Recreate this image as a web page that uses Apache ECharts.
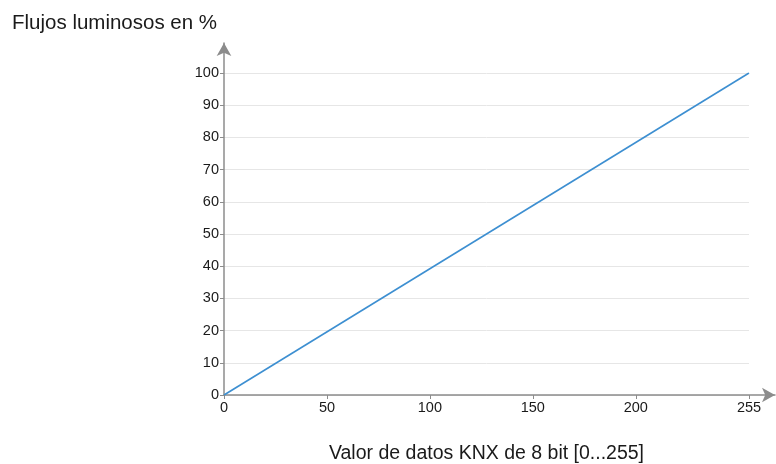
<!DOCTYPE html>
<html>
<head>
<meta charset="utf-8">
<script src="https://cdn.jsdelivr.net/npm/echarts@6/dist/echarts.min.js"></script>
<style>
  html, body { margin: 0; padding: 0; background: #fff; }
  #main { width: 776px; height: 464px; }
</style>
</head>
<body>
<div id="main"></div>
<script>
// valores
var knxValues = [0, 255];
var fluxPercent = [0, 100];
var xTickLabels = [0, 50, 100, 150, 200, 255];
var yTickLabels = [0, 10, 20, 30, 40, 50, 60, 70, 80, 90, 100];

var axisGray = '#8c8c8c';
var font = 'Liberation Sans, Arial, Helvetica, sans-serif';

var lineData = [];
for (var i = 0; i < knxValues.length; i++) {
	lineData.push([knxValues[i], fluxPercent[i]]);
}

var myChart = echarts.init(document.getElementById('main'));
var option = {
	animation: false,
	title: {
		text: 'Flujos luminosos en %',
		left: 7,
		top: 8,
		textStyle: { fontFamily: font, fontWeight: 'normal', fontSize: 20.5, color: '#1a1a1a' }
	},
	grid: [
		{ left: 224, right: 27, top: 73, bottom: 69, outerBoundsMode: 'none', containLabel: false },
		{ left: 224, right: 1, top: 43, bottom: 69, outerBoundsMode: 'none', containLabel: false }
	],
	xAxis: [
		{
			type: 'value', gridIndex: 0, min: 0, max: 255,
			name: 'Valor de datos KNX de 8 bit [0...255]',
			nameLocation: 'middle', nameGap: 49,
			nameTextStyle: { fontFamily: font, fontSize: 19.5, color: '#1a1a1a' },
			axisLine: { show: false },
			axisTick: { show: true, length: 4, customValues: xTickLabels, lineStyle: { color: axisGray } },
			axisLabel: { customValues: xTickLabels, fontFamily: font, fontSize: 14.5, color: '#1a1a1a', margin: 5 },
			splitLine: { show: false }
		},
		{
			type: 'value', gridIndex: 1, min: 0, max: 1,
			axisLine: { show: true, symbol: ['none', 'arrow'], symbolSize: [11, 13], lineStyle: { color: axisGray, width: 1.5 } },
			axisTick: { show: false }, axisLabel: { show: false }, splitLine: { show: false }
		}
	],
	yAxis: [
		{
			type: 'value', gridIndex: 0, min: 0, max: 100, interval: 10,
			axisLine: { show: false },
			axisTick: { show: true, length: 4, lineStyle: { color: axisGray } },
			axisLabel: { fontFamily: font, fontSize: 14.5, color: '#1a1a1a', margin: 5 },
			splitLine: { show: true, lineStyle: { color: '#e6e6e6', width: 1 } }
		},
		{
			type: 'value', gridIndex: 1, min: 0, max: 1,
			axisLine: { show: true, symbol: ['none', 'arrow'], symbolSize: [11, 13], lineStyle: { color: axisGray, width: 1.5 } },
			axisTick: { show: false }, axisLabel: { show: false }, splitLine: { show: false }
		}
	],
	series: [
		{
			type: 'line',
			xAxisIndex: 0, yAxisIndex: 0,
			data: lineData,
			showSymbol: false,
			lineStyle: { color: '#3d8fd1', width: 1.6 }
		}
	]
};
myChart.setOption(option);
</script>
</body>
</html>
